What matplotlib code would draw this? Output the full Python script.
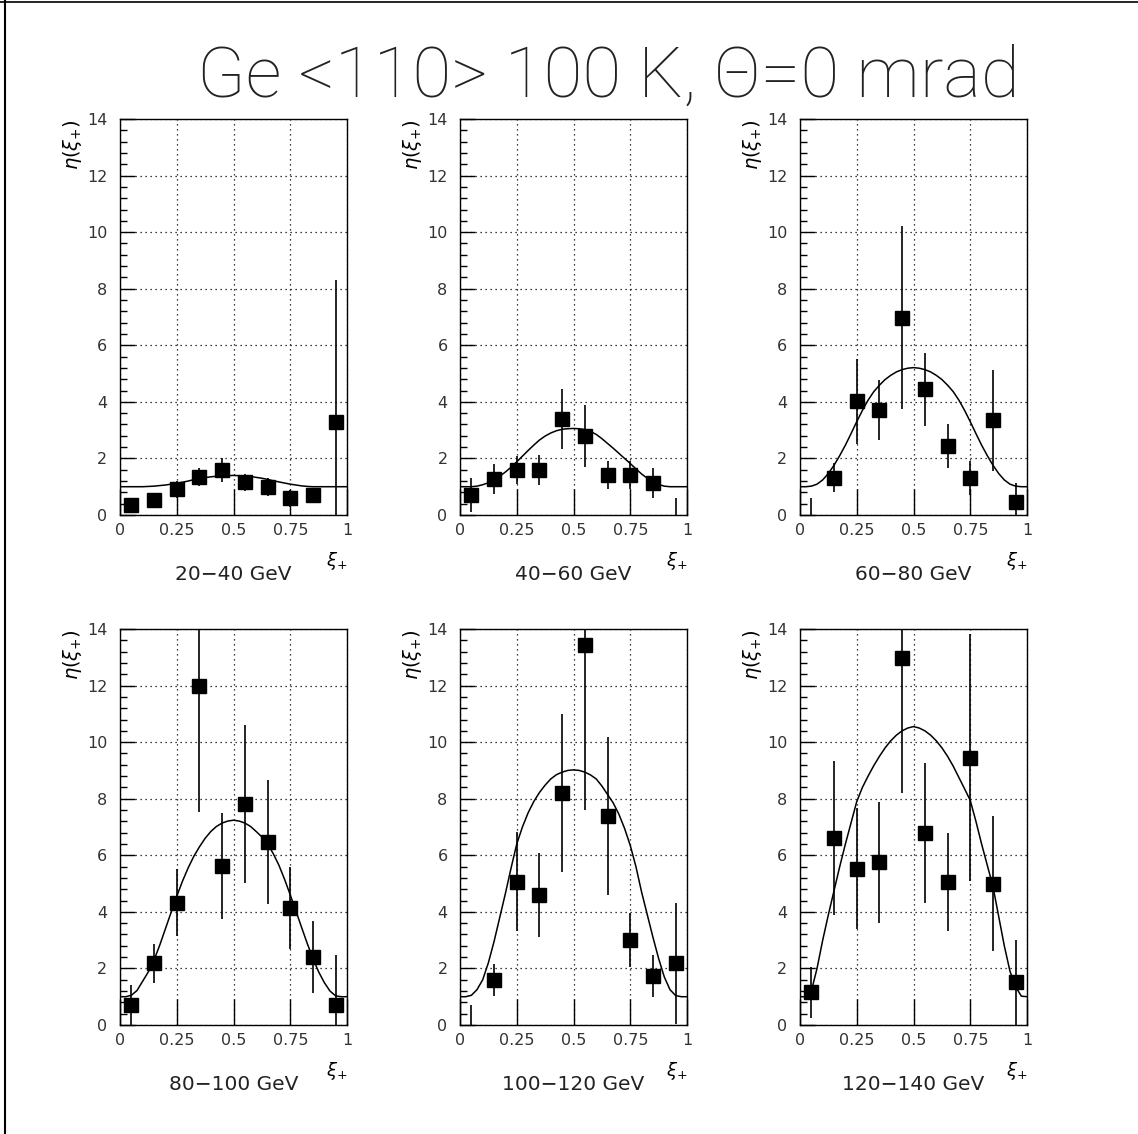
import numpy as np
import matplotlib
matplotlib.use('Agg')
import matplotlib.pyplot as plt
from matplotlib.lines import Line2D
from matplotlib.ticker import MultipleLocator

plt.rcParams['font.family'] = ['DejaVu Sans']

# bin centres of xi_+
xi = [0.05, 0.15, 0.25, 0.35, 0.45, 0.55, 0.65, 0.75, 0.85, 0.95]

energy_bins = ['20\u221240 GeV', '40\u221260 GeV', '60\u221280 GeV',
               '80\u2212100 GeV', '100\u2212120 GeV', '120\u2212140 GeV']

x_ticks = [0, 0.25, 0.5, 0.75, 1]
x_ticklabels = ['0', '0.25', '0.5', '0.75', '1']

# measured eta(xi_+) and errors, one list per energy bin
eta_20_40 = [0.35, 0.53, 0.91, 1.33, 1.59, 1.15, 0.98, 0.59, 0.71, 3.3]
err_20_40 = [0.15, 0.12, 0.30, 0.32, 0.41, 0.30, 0.32, 0.30, 0.25, 5.0]

eta_40_60 = [0.71, 1.29, 1.59, 1.59, 3.41, 2.79, 1.41, 1.41, 1.12, -0.5]
err_40_60 = [0.60, 0.53, 0.50, 0.53, 1.06, 1.10, 0.50, 0.50, 0.53, 1.1]

eta_60_80 = [-0.5, 1.32, 4.02, 3.71, 6.98, 4.44, 2.44, 1.32, 3.35, 0.47]
err_60_80 = [1.1, 0.52, 1.50, 1.06, 3.25, 1.30, 0.77, 0.60, 1.78, 0.65]

eta_80_100 = [0.71, 2.18, 4.33, 11.99, 5.62, 7.82, 6.47, 4.14, 2.41, 0.71]
err_80_100 = [0.70, 0.69, 1.20, 4.46, 1.87, 2.80, 2.20, 1.45, 1.28, 1.76]

eta_100_120 = [-0.5, 1.59, 5.06, 4.59, 8.20, 13.44, 7.39, 3.00, 1.74, 2.18]
err_100_120 = [1.2, 0.55, 1.75, 1.48, 2.80, 5.85, 2.80, 0.95, 0.74, 2.14]

eta_120_140 = [1.15, 6.61, 5.53, 5.76, 12.96, 6.79, 5.06, 9.45, 5.00, 1.51]
err_120_140 = [0.91, 2.72, 2.15, 2.14, 4.76, 2.47, 1.73, 4.37, 2.38, 1.50]

xi_curve = [0.0, 0.025, 0.05, 0.075, 0.1, 0.125, 0.15, 0.175, 0.2, 0.225,
            0.25, 0.275, 0.3, 0.325, 0.35, 0.375, 0.4, 0.425, 0.45, 0.475,
            0.5, 0.525, 0.55, 0.575, 0.6, 0.625, 0.65, 0.675, 0.7, 0.725,
            0.75, 0.775, 0.8, 0.825, 0.85, 0.875, 0.9, 0.925, 0.95, 0.975, 1.0]
fit_20_40 = [1.0, 1.0, 1.0, 1.0, 1.0, 1.01, 1.02, 1.04, 1.06, 1.09,
             1.12, 1.16, 1.20, 1.25, 1.29, 1.32, 1.35, 1.37, 1.38, 1.39,
             1.40, 1.39, 1.38, 1.36, 1.33, 1.30, 1.26, 1.21, 1.17, 1.13,
             1.09, 1.06, 1.03, 1.01, 1.0, 1.0, 1.0, 1.0, 1.0, 1.0, 1.0]
fit_40_60 = [1.0, 1.0, 1.0, 1.02, 1.07, 1.14, 1.24, 1.37, 1.52, 1.69,
             1.88, 2.08, 2.28, 2.47, 2.65, 2.79, 2.90, 2.98, 3.03, 3.05,
             3.06, 3.05, 3.02, 2.95, 2.85, 2.70, 2.53, 2.36, 2.18, 2.00,
             1.82, 1.63, 1.45, 1.30, 1.18, 1.08, 1.02, 1.0, 1.0, 1.0, 1.0]
fit_60_80 = [1.0, 1.0, 1.02, 1.09, 1.24, 1.47, 1.76, 2.10, 2.47, 2.88,
             3.30, 3.70, 4.06, 4.36, 4.59, 4.79, 4.94, 5.06, 5.14, 5.19,
             5.21, 5.19, 5.14, 5.06, 4.94, 4.79, 4.59, 4.36, 4.06, 3.70,
             3.30, 2.88, 2.47, 2.10, 1.76, 1.47, 1.24, 1.09, 1.02, 1.0, 1.0]
fit_80_100 = [1.0, 1.0, 1.05, 1.22, 1.55, 1.88, 2.30, 2.82, 3.40, 3.98,
              4.55, 5.08, 5.55, 5.96, 6.30, 6.60, 6.84, 7.02, 7.14, 7.21,
              7.24, 7.21, 7.14, 7.02, 6.84, 6.65, 6.40, 6.06, 5.65, 5.15,
              4.60, 4.03, 3.45, 2.88, 2.35, 1.88, 1.50, 1.20, 1.03, 1.0, 1.0]
fit_100_120 = [1.0, 1.0, 1.05, 1.25, 1.60, 2.20, 2.95, 3.80, 4.65, 5.55,
               6.40, 7.00, 7.50, 7.90, 8.22, 8.48, 8.70, 8.85, 8.94, 9.00,
               9.02, 9.00, 8.94, 8.84, 8.70, 8.45, 8.15, 7.85, 7.45, 6.95,
               6.35, 5.60, 4.70, 3.90, 3.10, 2.35, 1.70, 1.25, 1.04, 1.0, 1.0]
fit_120_140 = [1.0, 1.0, 1.20, 2.00, 3.00, 3.90, 4.75, 5.60, 6.40, 7.15,
               7.90, 8.40, 8.80, 9.17, 9.50, 9.80, 10.05, 10.25, 10.40, 10.50,
               10.55, 10.50, 10.40, 10.25, 10.05, 9.80, 9.50, 9.15, 8.75, 8.35,
               7.94, 7.20, 6.40, 5.65, 4.90, 3.85, 2.80, 1.90, 1.35, 1.02, 1.0]

eta_sets = [eta_20_40, eta_40_60, eta_60_80, eta_80_100, eta_100_120, eta_120_140]
err_sets = [err_20_40, err_40_60, err_60_80, err_80_100, err_100_120, err_120_140]
fit_sets = [fit_20_40, fit_40_60, fit_60_80, fit_80_100, fit_100_120, fit_120_140]

W, H = 1138, 1134
fig = plt.figure(figsize=(W / 100, H / 100), dpi=100)

# outer frame (only top and left edges are visible)
fig.add_artist(Line2D([0, 1], [1 - 2 / H, 1 - 2 / H], transform=fig.transFigure, color='black', lw=1.2))
fig.add_artist(Line2D([5 / W, 5 / W], [0, 1], transform=fig.transFigure, color='black', lw=1.5))

fig.text(608 / W, 1 - 97 / H, 'Ge <110> 100 K, \u0398=0 mrad', ha='center', va='baseline',
         fontsize=51, fontweight=100, color='#222222', family=['Roboto', 'DejaVu Sans'])

lefts = [120, 460, 800]
tops = [119, 629]
aw, ah = 227, 396

for i in range(6):
    r, c = divmod(i, 3)
    ax = fig.add_axes([lefts[c] / W, 1 - (tops[r] + ah) / H, aw / W, ah / H])

    ax.plot(xi_curve, fit_sets[i], color='black', lw=1.1, zorder=3)
    ax.errorbar(xi, eta_sets[i], yerr=err_sets[i], fmt='s', ms=10.5, mfc='black', mec='black',
                ecolor='black', elinewidth=1.2, capsize=0, zorder=4)

    ax.set_xlim(0, 1)
    ax.set_ylim(0, 14)
    ax.set_xticks(x_ticks)
    ax.set_xticklabels(x_ticklabels)
    ax.yaxis.set_major_locator(MultipleLocator(2))
    ax.yaxis.set_minor_locator(MultipleLocator(0.4))
    ax.tick_params(axis='x', which='major', direction='in', length=19, width=1.0, pad=6,
                   labelsize=11.5, labelcolor='#333333')
    ax.tick_params(axis='y', which='major', direction='in', length=10.5, width=1.0, pad=9,
                   labelsize=11.5, labelcolor='#333333')
    ax.tick_params(axis='y', which='minor', direction='in', length=5, width=1.0)
    ax.grid(True, which='major', linestyle=(0, (1, 3)), color='black', lw=0.9)
    for s in ax.spines.values():
        s.set_linewidth(1.0)

    ax.text(-0.21, 1.0, r'$\eta(\xi_{+})$', transform=ax.transAxes, rotation=90,
            ha='center', va='top', fontsize=14)
    ax.text(1.0, -0.115, r'$\xi_{+}$', transform=ax.transAxes, ha='right', va='center',
            fontsize=13)
    ax.text(0.5, -0.15, energy_bins[i], transform=ax.transAxes, ha='center', va='center',
            fontsize=14.5, color='#222222')

fig.savefig('out.png', dpi=100)
